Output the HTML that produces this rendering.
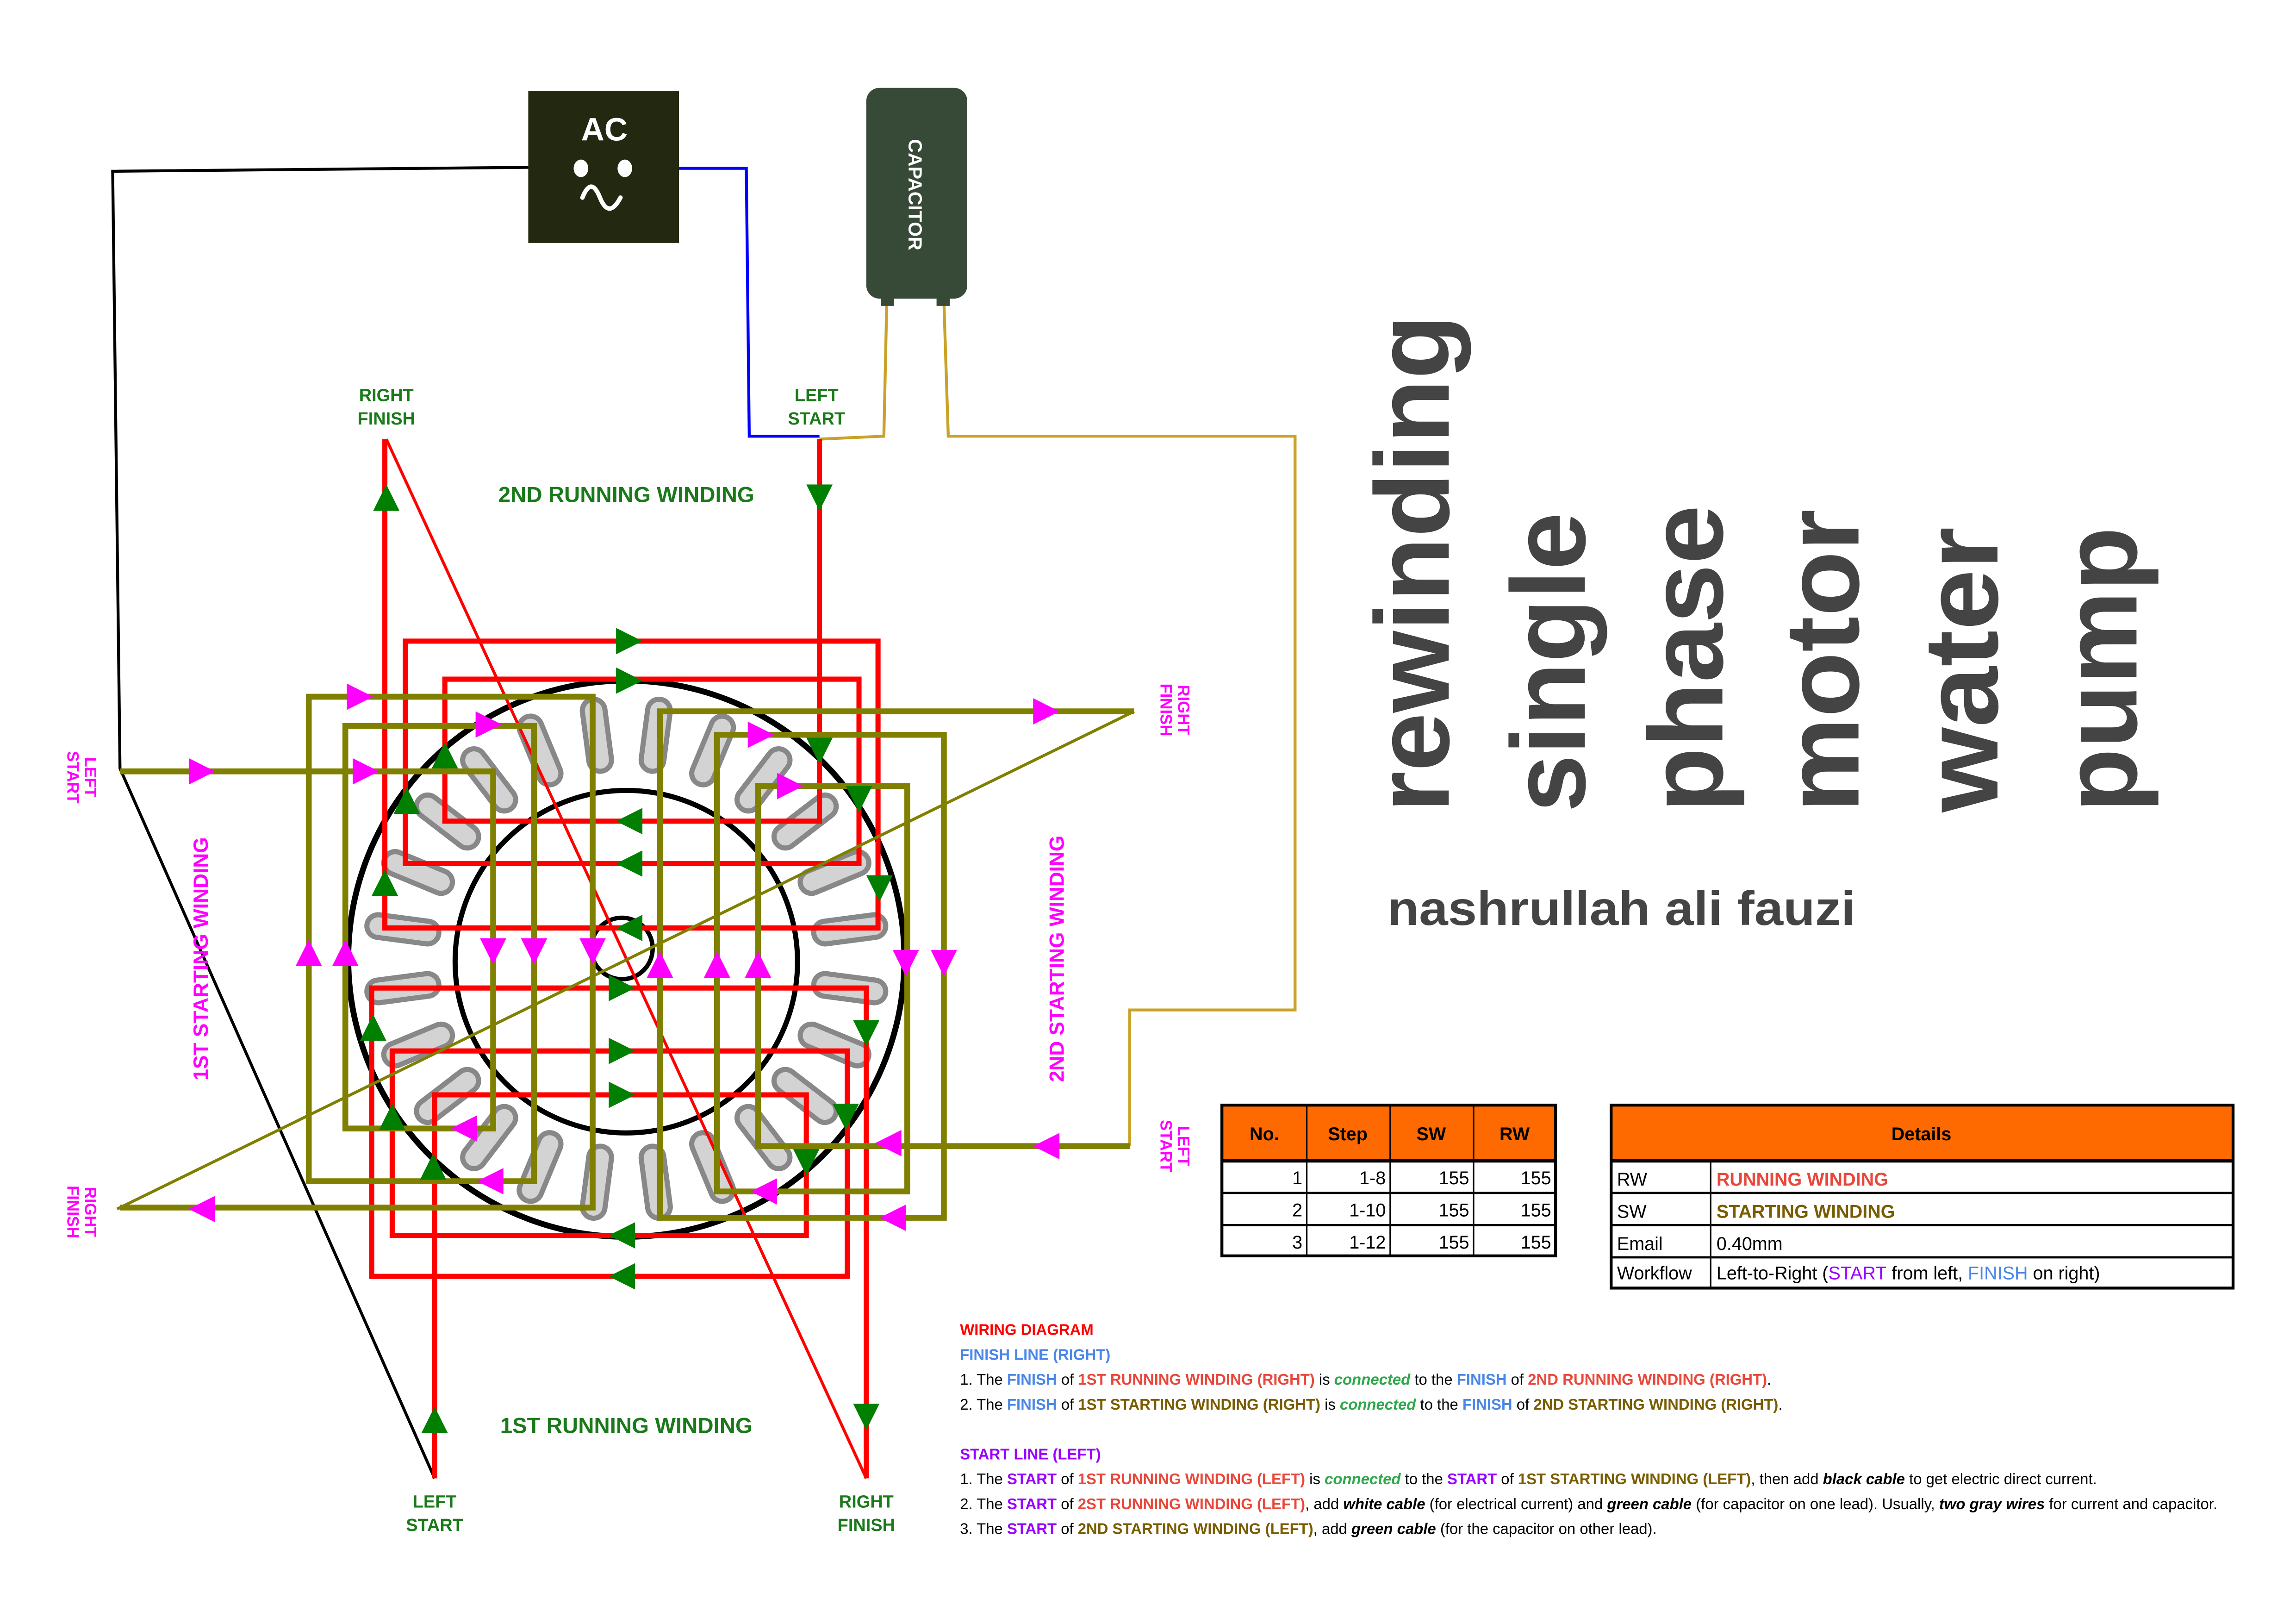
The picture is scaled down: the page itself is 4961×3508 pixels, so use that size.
<!DOCTYPE html>
<html><head><meta charset="utf-8"><style>
html,body{margin:0;padding:0;background:#fff;}
svg{display:block;}
text{font-family:"Liberation Sans",sans-serif;}
</style></head><body>
<svg xmlns="http://www.w3.org/2000/svg" width="4961" height="3508" viewBox="0 0 1569 1109.5" preserveAspectRatio="none">
<defs>
<polygon id="ar" points="-9,-9 9,0 -9,9"/>
<g id="slot"><line x1="428" y1="518" x2="428" y2="484" stroke="#888" stroke-width="19" stroke-linecap="round"/><line x1="428" y1="518" x2="428" y2="484" stroke="#d3d3d3" stroke-width="12" stroke-linecap="round"/></g>
</defs>
<rect width="1569" height="1110" fill="#fff"/>

<circle cx="428" cy="655" r="190" fill="none" stroke="#000" stroke-width="4"/>
<g>
<use href="#slot" transform="rotate(7.5 428 655)"/><use href="#slot" transform="rotate(22.5 428 655)"/><use href="#slot" transform="rotate(37.5 428 655)"/><use href="#slot" transform="rotate(52.5 428 655)"/><use href="#slot" transform="rotate(67.5 428 655)"/><use href="#slot" transform="rotate(82.5 428 655)"/>
<use href="#slot" transform="rotate(97.5 428 655)"/><use href="#slot" transform="rotate(112.5 428 655)"/><use href="#slot" transform="rotate(127.5 428 655)"/><use href="#slot" transform="rotate(142.5 428 655)"/><use href="#slot" transform="rotate(157.5 428 655)"/><use href="#slot" transform="rotate(172.5 428 655)"/>
<use href="#slot" transform="rotate(187.5 428 655)"/><use href="#slot" transform="rotate(202.5 428 655)"/><use href="#slot" transform="rotate(217.5 428 655)"/><use href="#slot" transform="rotate(232.5 428 655)"/><use href="#slot" transform="rotate(247.5 428 655)"/><use href="#slot" transform="rotate(262.5 428 655)"/>
<use href="#slot" transform="rotate(277.5 428 655)"/><use href="#slot" transform="rotate(292.5 428 655)"/><use href="#slot" transform="rotate(307.5 428 655)"/><use href="#slot" transform="rotate(322.5 428 655)"/><use href="#slot" transform="rotate(337.5 428 655)"/><use href="#slot" transform="rotate(352.5 428 655)"/>
</g>
<circle cx="428" cy="657" r="117" fill="none" stroke="#000" stroke-width="3.5"/>
<circle cx="425" cy="648" r="21" fill="none" stroke="#000" stroke-width="3"/>

<path d="M397,114 L77,117 L82,525 L297,1010" fill="none" stroke="#000" stroke-width="2"/>
<path d="M427,115 H510 L512,298 H560" fill="none" stroke="#0000ff" stroke-width="2"/>
<path d="M606,205 L604,298 L560,300" fill="none" stroke="#c9a227" stroke-width="2"/>
<path d="M645,205 L648,298 H885 V690 H772 V783" fill="none" stroke="#c9a227" stroke-width="2"/>

<g fill="none" stroke="#ff0000" stroke-width="3.5">
<path d="M560,300 V561 H304 V464 H587 V590 H277 V438 H600 V634 H263 V300"/>
<path d="M297,1010 V748 H551 V844 H268 V718 H579 V872 H254 V675 H592 V1010"/>
</g>
<path d="M264,300 L592,1010" stroke="#ff0000" stroke-width="2" fill="none"/>

<g fill="none" stroke="#808000" stroke-width="4">
<path d="M82,527 H337 V771 H236 V496 H365 V807 H211 V476 H405 V825 H82"/>
<path d="M772,783 H518 V537 H620 V814 H490 V502 H645 V832 H451 V486 H775"/>
</g>
<path d="M80,826 L775,486" stroke="#808000" stroke-width="2" fill="none"/>

<g fill="#007f00">
<use href="#ar" transform="translate(430,438)"/><use href="#ar" transform="translate(430,465)"/>
<use href="#ar" transform="translate(430,561) rotate(180)"/><use href="#ar" transform="translate(430,590) rotate(180)"/><use href="#ar" transform="translate(430,634) rotate(180)"/>
<use href="#ar" transform="translate(560,340) rotate(90)"/><use href="#ar" transform="translate(264,340) rotate(270)"/>
<use href="#ar" transform="translate(560,513) rotate(90)"/><use href="#ar" transform="translate(587,546) rotate(90)"/><use href="#ar" transform="translate(601,607) rotate(90)"/>
<use href="#ar" transform="translate(304,516) rotate(270)"/><use href="#ar" transform="translate(278,547) rotate(270)"/><use href="#ar" transform="translate(263,603) rotate(270)"/>
<use href="#ar" transform="translate(425,675)"/><use href="#ar" transform="translate(425,718)"/><use href="#ar" transform="translate(425,748)"/>
<use href="#ar" transform="translate(425,844) rotate(180)"/><use href="#ar" transform="translate(425,872) rotate(180)"/>
<use href="#ar" transform="translate(255,702) rotate(270)"/><use href="#ar" transform="translate(268,763) rotate(270)"/><use href="#ar" transform="translate(296,797) rotate(270)"/><use href="#ar" transform="translate(297,970) rotate(270)"/>
<use href="#ar" transform="translate(592,706) rotate(90)"/><use href="#ar" transform="translate(578,763) rotate(90)"/><use href="#ar" transform="translate(551,794) rotate(90)"/><use href="#ar" transform="translate(592,968) rotate(90)"/>
</g>
<g fill="#ff00ff">
<use href="#ar" transform="translate(138,527)"/><use href="#ar" transform="translate(246,476)"/><use href="#ar" transform="translate(334,495)"/><use href="#ar" transform="translate(250,527)"/>
<use href="#ar" transform="translate(520,502)"/><use href="#ar" transform="translate(540,537)"/><use href="#ar" transform="translate(715,486)"/>
<use href="#ar" transform="translate(138,826) rotate(180)"/><use href="#ar" transform="translate(317,771) rotate(180)"/><use href="#ar" transform="translate(335,807) rotate(180)"/>
<use href="#ar" transform="translate(607,781) rotate(180)"/><use href="#ar" transform="translate(522,814) rotate(180)"/><use href="#ar" transform="translate(610,832) rotate(180)"/><use href="#ar" transform="translate(715,783) rotate(180)"/>
<use href="#ar" transform="translate(337,650) rotate(90)"/><use href="#ar" transform="translate(365,650) rotate(90)"/><use href="#ar" transform="translate(405,650) rotate(90)"/><use href="#ar" transform="translate(619,658) rotate(90)"/><use href="#ar" transform="translate(645,658) rotate(90)"/>
<use href="#ar" transform="translate(211,651) rotate(270)"/><use href="#ar" transform="translate(236,651) rotate(270)"/><use href="#ar" transform="translate(451,659) rotate(270)"/><use href="#ar" transform="translate(490,659) rotate(270)"/><use href="#ar" transform="translate(518,659) rotate(270)"/>
</g>

<rect x="361" y="62" width="103" height="104" fill="#232810"/>
<text x="413" y="96" fill="#fff" font-size="22" font-weight="bold" text-anchor="middle">AC</text>
<ellipse cx="397" cy="115" rx="5" ry="6" fill="#fff"/>
<ellipse cx="427" cy="115" rx="5" ry="6" fill="#fff"/>
<path d="M398,135 Q404,120 410,135 Q416,150 424,135" fill="none" stroke="#fff" stroke-width="3" stroke-linecap="round"/>

<rect x="592" y="60" width="69" height="144" rx="9" fill="#374a37"/>
<rect x="602" y="203" width="9" height="6" fill="#374a37"/>
<rect x="640" y="203" width="9" height="6" fill="#374a37"/>
<text transform="translate(621,133) rotate(90)" fill="#fff" font-size="13" font-weight="bold" text-anchor="middle">CAPACITOR</text>

<g fill="#1a7a1a" font-weight="bold" font-size="12" text-anchor="middle">
<text x="264" y="274">RIGHT</text><text x="264" y="290">FINISH</text>
<text x="558" y="274">LEFT</text><text x="558" y="290">START</text>
<text x="297" y="1030">LEFT</text><text x="297" y="1046">START</text>
<text x="592" y="1030">RIGHT</text><text x="592" y="1046">FINISH</text>
<text x="428" y="343" font-size="15">2ND RUNNING WINDING</text>
<text x="428" y="979" font-size="15">1ST RUNNING WINDING</text>
</g>
<g fill="#ff00ff" font-weight="bold" font-size="11" text-anchor="middle">
<text transform="translate(58,531) rotate(90)"><tspan x="0" y="0">LEFT</tspan><tspan x="0" y="12">START</tspan></text>
<text transform="translate(58,828) rotate(90)"><tspan x="0" y="0">RIGHT</tspan><tspan x="0" y="12">FINISH</tspan></text>
<text transform="translate(805,485) rotate(90)"><tspan x="0" y="0">RIGHT</tspan><tspan x="0" y="12">FINISH</tspan></text>
<text transform="translate(805,783) rotate(90)"><tspan x="0" y="0">LEFT</tspan><tspan x="0" y="12">START</tspan></text>
<text transform="translate(142,655) rotate(-90)" font-size="14">1ST STARTING WINDING</text>
<text transform="translate(727,655) rotate(-90)" font-size="14">2ND STARTING WINDING</text>
</g>

<g fill="#444" font-weight="bold" font-size="72">
<text transform="translate(990,555) rotate(-90)" textLength="340" lengthAdjust="spacingAndGlyphs">rewinding</text>
<text transform="translate(1083,555) rotate(-90)" textLength="205" lengthAdjust="spacingAndGlyphs">single</text>
<text transform="translate(1177,555) rotate(-90)" textLength="210" lengthAdjust="spacingAndGlyphs">phase</text>
<text transform="translate(1270,555) rotate(-90)" textLength="207" lengthAdjust="spacingAndGlyphs">motor</text>
<text transform="translate(1365,555) rotate(-90)" textLength="195" lengthAdjust="spacingAndGlyphs">water</text>
<text transform="translate(1460,555) rotate(-90)" textLength="195" lengthAdjust="spacingAndGlyphs">pump</text>
</g>
<text x="948" y="632" fill="#444" font-size="33" font-weight="bold" textLength="320" lengthAdjust="spacingAndGlyphs">nashrullah ali fauzi</text>

<rect x="835" y="755" width="228" height="38" fill="#ff6a00"/>
<g stroke="#000" fill="none">
<rect x="835" y="755" width="228" height="103" stroke-width="2"/>
<line x1="835" y1="793" x2="1063" y2="793" stroke-width="2.5"/>
<line x1="835" y1="815" x2="1063" y2="815" stroke-width="1.5"/>
<line x1="835" y1="837" x2="1063" y2="837" stroke-width="1.5"/>
<line x1="893" y1="755" x2="893" y2="858" stroke-width="1"/>
<line x1="950" y1="755" x2="950" y2="858" stroke-width="1"/>
<line x1="1007" y1="755" x2="1007" y2="858" stroke-width="1"/>
</g>
<g font-size="12.5" fill="#000">
<g font-weight="bold" text-anchor="middle"><text x="864" y="779">No.</text><text x="921" y="779">Step</text><text x="978" y="779">SW</text><text x="1035" y="779">RW</text></g>
<g text-anchor="end">
<text x="890" y="809">1</text><text x="947" y="809">1-8</text><text x="1004" y="809">155</text><text x="1060" y="809">155</text>
<text x="890" y="831">2</text><text x="947" y="831">1-10</text><text x="1004" y="831">155</text><text x="1060" y="831">155</text>
<text x="890" y="853">3</text><text x="947" y="853">1-12</text><text x="1004" y="853">155</text><text x="1060" y="853">155</text>
</g></g>

<rect x="1101" y="755" width="425" height="38" fill="#ff6a00"/>
<g stroke="#000" fill="none">
<rect x="1101" y="755" width="425" height="125" stroke-width="2"/>
<line x1="1101" y1="793" x2="1526" y2="793" stroke-width="2.5"/>
<line x1="1101" y1="815" x2="1526" y2="815" stroke-width="1.5"/>
<line x1="1101" y1="837" x2="1526" y2="837" stroke-width="1.5"/>
<line x1="1101" y1="859" x2="1526" y2="859" stroke-width="1.5"/>
<line x1="1169" y1="793" x2="1169" y2="880" stroke-width="1"/>
</g>
<g font-size="12.5" fill="#000">
<text x="1313" y="779" font-weight="bold" text-anchor="middle">Details</text>
<text x="1105" y="810">RW</text><text x="1173" y="810" fill="#e8473a" font-weight="bold">RUNNING WINDING</text>
<text x="1105" y="832">SW</text><text x="1173" y="832" fill="#7a5c00" font-weight="bold">STARTING WINDING</text>
<text x="1105" y="854">Email</text><text x="1173" y="854">0.40mm</text>
<text x="1105" y="874">Workflow</text><text x="1173" y="874">Left-to-Right (<tspan fill="#9900ff">START</tspan> from left, <tspan fill="#4a86e8">FINISH</tspan> on right)</text>
</g>

<g font-size="10.4" fill="#000">
<text x="656" y="912" fill="#ff0000" font-weight="bold">WIRING DIAGRAM</text>
<text x="656" y="929" fill="#4a86e8" font-weight="bold">FINISH LINE (RIGHT)</text>
<text x="656" y="946">1. The <tspan fill="#4a86e8" font-weight="bold">FINISH</tspan> of <tspan fill="#e8473a" font-weight="bold">1ST RUNNING WINDING (RIGHT)</tspan> is <tspan fill="#2ea84a" font-weight="bold" font-style="italic">connected</tspan> to the <tspan fill="#4a86e8" font-weight="bold">FINISH</tspan> of  <tspan fill="#e8473a" font-weight="bold">2ND RUNNING WINDING (RIGHT)</tspan>.</text>
<text x="656" y="963">2. The <tspan fill="#4a86e8" font-weight="bold">FINISH</tspan> of <tspan fill="#7a5c00" font-weight="bold">1ST STARTING WINDING (RIGHT)</tspan> is <tspan fill="#2ea84a" font-weight="bold" font-style="italic">connected</tspan> to the <tspan fill="#4a86e8" font-weight="bold">FINISH</tspan> of <tspan fill="#7a5c00" font-weight="bold">2ND STARTING WINDING (RIGHT)</tspan>.</text>
<text x="656" y="997" fill="#9900ff" font-weight="bold">START LINE (LEFT)</text>
<text x="656" y="1014">1. The <tspan fill="#9900ff" font-weight="bold">START</tspan> of <tspan fill="#e8473a" font-weight="bold">1ST RUNNING WINDING (LEFT)</tspan> is <tspan fill="#2ea84a" font-weight="bold" font-style="italic">connected</tspan> to the <tspan fill="#9900ff" font-weight="bold">START</tspan> of <tspan fill="#7a5c00" font-weight="bold">1ST STARTING WINDING (LEFT)</tspan>, then add <tspan font-weight="bold" font-style="italic">black cable</tspan> to get electric direct current.</text>
<text x="656" y="1031">2. The <tspan fill="#9900ff" font-weight="bold">START</tspan> of <tspan fill="#e8473a" font-weight="bold">2ST RUNNING WINDING (LEFT)</tspan>, add <tspan font-weight="bold" font-style="italic">white cable</tspan> (for electrical current) and <tspan font-weight="bold" font-style="italic">green cable</tspan> (for capacitor on one lead). Usually, <tspan font-weight="bold" font-style="italic">two gray wires</tspan> for current and capacitor.</text>
<text x="656" y="1048">3. The <tspan fill="#9900ff" font-weight="bold">START</tspan> of <tspan fill="#7a5c00" font-weight="bold">2ND STARTING WINDING (LEFT)</tspan>, add <tspan font-weight="bold" font-style="italic">green cable</tspan> (for the capacitor on other lead).</text>
</g>
</svg>
</body></html>
